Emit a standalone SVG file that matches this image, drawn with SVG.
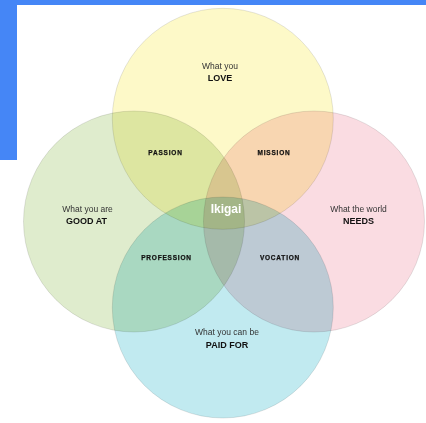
<svg xmlns="http://www.w3.org/2000/svg" width="426" height="423" viewBox="0 0 426 423">
  <style>
    .c { stroke: rgba(0,0,0,0.13); stroke-width: 0.8; mix-blend-mode: multiply; }
    .t { font-family: "Liberation Sans", Arial, sans-serif; font-size: 8.5px; fill: #333; text-anchor: middle; }
    .b { font-family: "Liberation Sans", Arial, sans-serif; font-size: 9px; font-weight: bold; fill: #111; text-anchor: middle; }
    .s { font-family: "Liberation Sans", Arial, sans-serif; font-size: 6.5px; font-weight: bold; fill: #111; text-anchor: middle; letter-spacing: 0.8px; stroke: #111; stroke-width: 0.25; }
    .k { font-family: "Liberation Sans", Arial, sans-serif; font-size: 12px; font-weight: bold; fill: #ffffff; text-anchor: middle; }
  </style>
  <rect x="0" y="0" width="426" height="423" fill="#ffffff"/>
  <rect x="0" y="0" width="426" height="5" fill="#4586f6"/>
  <rect x="0" y="0" width="17" height="160" fill="#4586f6"/>
  <g id="circles" style="isolation:isolate">
    <g id="love"><circle class="c" cx="222.8" cy="118.8" r="110.5" fill="#fdf9c8"/></g>
    <g id="good"><circle class="c" cx="134" cy="221.5" r="110.5" fill="#dfeccd"/></g>
    <g id="needs"><circle class="c" cx="314" cy="221.5" r="110.5" fill="#fadce2"/></g>
    <g id="paid"><circle class="c" cx="222.8" cy="307.5" r="110.5" fill="#c1eaf0"/></g>
  </g>
  <g id="labels">
    <text class="t" x="220" y="69">What you</text>
    <text class="b" x="220" y="80.5">LOVE</text>
    <text class="t" x="87.5" y="212">What you are</text>
    <text class="b" x="86.5" y="223.5">GOOD AT</text>
    <text class="t" x="358.5" y="212">What the world</text>
    <text class="b" x="358.5" y="223.5">NEEDS</text>
    <text class="t" x="227" y="335">What you can be</text>
    <text class="b" x="227" y="348">PAID FOR</text>
    <text class="s" x="165.5" y="155">PASSION</text>
    <text class="s" x="274" y="155">MISSION</text>
    <text class="s" x="166.5" y="259.5">PROFESSION</text>
    <text class="s" x="280" y="260">VOCATION</text>
    <text class="k" x="226" y="213">Ikigai</text>
  </g>
</svg>
